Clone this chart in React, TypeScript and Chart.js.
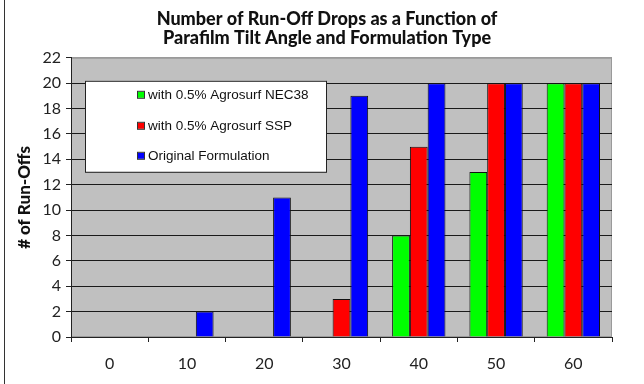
import React, { useEffect, useRef } from "react";
import { Chart, registerables } from "chart.js";

Chart.register(...registerables);

const categories = ["0", "10", "20", "30", "40", "50", "60"];
const seriesNames = ["with 0.5% Agrosurf NEC38", "with 0.5% Agrosurf SSP", "Original Formulation"];
const nec38 = [0, 0, 0, 0, 8, 13, 20];
const ssp = [0, 0, 0, 3, 15, 20, 20];
const original = [0, 2, 11, 19, 20, 20, 20];
const seriesColors = ["#00ff00", "#ff0000", "#0000ff"];
const titleLines = ["Number of Run-Off Drops as a Function of", "Parafilm Tilt Angle and Formulation Type"];
const yTitle = "# of Run-Offs";

const plotBg = {
  id: "plotBg",
  beforeDraw(chart: any) {
    const { ctx, chartArea } = chart;
    ctx.save();
    ctx.fillStyle = "#ffffff";
    ctx.fillRect(0, 0, chart.width, chart.height);
    ctx.fillStyle = "#c0c0c0";
    ctx.fillRect(chartArea.left, chartArea.top, chartArea.right - chartArea.left, chartArea.bottom - chartArea.top);
    ctx.strokeStyle = "#9a9a9a";
    ctx.lineWidth = 1;
    ctx.strokeRect(chartArea.left + 0.5, chartArea.top + 0.5, chartArea.right - chartArea.left - 1, chartArea.bottom - chartArea.top - 1);
    // frame line at left edge of picture
    ctx.strokeStyle = "#333";
    ctx.beginPath();
    ctx.moveTo(4.5, 0);
    ctx.lineTo(4.5, chart.height);
    ctx.stroke();
    ctx.restore();
  },
};

const boxLegend = {
  id: "boxLegend",
  afterDatasetsDraw(chart: any) {
    const { ctx, chartArea } = chart;
    const x = chartArea.left + 14;
    const y = chartArea.top + 23;
    const w = 241;
    const h = 91;
    ctx.save();
    ctx.fillStyle = "#ffffff";
    ctx.fillRect(x, y, w, h);
    ctx.strokeStyle = "#222";
    ctx.lineWidth = 1;
    ctx.strokeRect(x + 0.5, y + 0.5, w, h);
    ctx.font = "13.5px 'Liberation Sans', Arial, sans-serif";
    ctx.textBaseline = "middle";
    ctx.textAlign = "left";
    const rows = [14, 45, 75];
    chart.data.datasets.forEach((ds: any, i: number) => {
      const cy = y + rows[i];
      ctx.fillStyle = ds.backgroundColor;
      ctx.fillRect(x + 53, cy - 3, 6, 6);
      ctx.strokeStyle = "#333";
      ctx.strokeRect(x + 52.5, cy - 3.5, 7, 7);
      ctx.fillStyle = "#111";
      ctx.fillText(ds.label, x + 63, cy + 0.5);
    });
    ctx.restore();
  },
};

export default function App() {
  const ref = useRef<HTMLCanvasElement | null>(null);
  useEffect(() => {
    if (!ref.current) return;
    const data = [nec38, ssp, original];
    const chart = new Chart(ref.current, {
      type: "bar",
      data: {
        labels: categories,
        datasets: data.map((d, i) => ({
          label: seriesNames[i],
          data: d,
          backgroundColor: seriesColors[i],
          borderColor: "#111",
          borderWidth: 1,
          categoryPercentage: 0.69,
          barPercentage: 1.0,
          yAxisID: "y",
        })),
      },
      options: {
        responsive: false,
        animation: false,
        layout: { padding: { left: 10, right: 0, top: 0, bottom: 0 } },
        plugins: {
          legend: { display: false },
          tooltip: { enabled: false },
          title: {
            display: true,
            text: titleLines,
            color: "#111",
            font: { family: "Lato", size: 18, weight: "900", lineHeight: 1.05 },
            padding: { top: 10, bottom: 10 },
          },
        },
        scales: {
          x: {
            grid: { display: true, drawOnChartArea: false, drawTicks: true, tickLength: 5, color: "#222", offset: true },
            border: { display: true, color: "#222" },
            ticks: { color: "#222", font: { family: "Lato", size: 16 }, padding: 12 },
            afterFit: (s: any) => { s.height = 47; },
          },
          y: {
            min: 0,
            max: 22,
            ticks: { stepSize: 2, color: "#222", font: { family: "Lato", size: 16 }, padding: 5 },
            grid: {
              color: (c: any) => (c.tick && c.tick.value === 22 ? "#9a9a9a" : "#1a1a1a"),
              tickColor: "#222",
              tickLength: 5,
            },
            border: { display: true, color: "#222" },
            title: {
              display: true,
              text: yTitle,
              color: "#111",
              font: { family: "Lato", size: 17, weight: "900" },
              padding: { top: 4, bottom: 0 },
            },
            afterFit: (s: any) => { s.width = 61; },
          },
          y2: {
            position: "right",
            display: true,
            min: 0,
            max: 22,
            ticks: { display: false },
            grid: { display: false, drawTicks: false },
            border: { display: false },
            afterFit: (s: any) => { s.width = 32; },
          },
        },
      },
      plugins: [plotBg, boxLegend],
    } as any);
    return () => chart.destroy();
  }, []);
  return (
    <div style={{ position: "absolute", left: 0, top: 0, width: 644, height: 384 }}>
      <canvas ref={ref} width={644} height={384} style={{ display: "block" }} />
    </div>
  );
}
